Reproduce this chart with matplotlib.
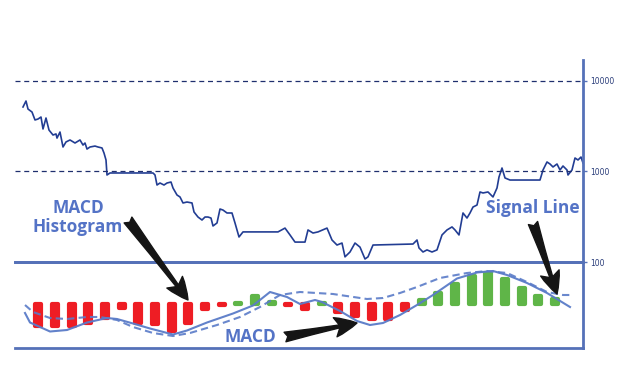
import numpy as np
import matplotlib
matplotlib.use('Agg')
import matplotlib.pyplot as plt

# price (log scale), day index vs price
price_day = [0, 3, 5, 9, 12, 15, 18, 20, 23, 26, 30, 33, 34, 37, 40, 43, 47, 52, 57, 60,
             62, 64, 67, 72, 75, 79, 81, 83, 84, 87, 110, 130, 132, 134, 137, 141, 144, 148,
             150, 154, 157, 160, 164, 169, 171, 175, 179, 182, 185, 188, 190, 194, 197, 200,
             204, 209, 212, 216, 220, 240, 255, 262, 267, 272, 277, 282, 285, 290, 295, 304,
             309, 314, 319, 322, 327, 332, 337, 342, 345, 350, 390, 394, 396, 400, 404, 409,
             414, 419, 424, 429, 432, 436, 440, 444, 447, 450, 454, 457, 460, 465, 470, 474,
             476, 479, 482, 487, 517, 520, 524, 527, 530, 534, 537, 540, 544, 545, 549, 552,
             555, 558, 560]
price = [5160, 6010, 4900, 4540, 3710, 3800, 4000, 2950, 3900, 2870, 2530, 2600, 2340, 2730,
         1865, 2120, 2230, 2065, 2230, 1960, 2065, 1770, 1865, 1910, 1865, 1820, 1600, 1340,
         915, 963, 963, 963, 915, 709, 746, 709, 746, 765, 657, 550, 523, 449, 460, 449, 357,
         314, 291, 314, 314, 306, 250, 270, 385, 375, 348, 348, 270, 189, 215, 215, 215, 237,
         199, 166, 166, 166, 226, 209, 215, 237, 175, 154, 162, 114, 129, 162, 146, 108, 114,
         154, 158, 175, 143, 129, 136, 129, 136, 199, 226, 244, 226, 199, 348, 306, 348, 405,
         426, 594, 579, 594, 523, 657, 869, 1093, 848, 805, 805, 1039, 1274, 1210, 1122, 1210,
         1039, 1150, 1039, 915, 1039, 1410, 1340, 1446, 1241]

# MACD panel
hist_day = [15, 32, 49, 65, 82, 99, 115, 132, 149, 165, 182, 199, 215, 232, 249, 265,
            282, 299, 315, 332, 349, 365, 382, 399, 415, 432, 449, 465, 482, 499, 515, 532]
hist = [-2.2, -2.2, -2.2, -1.9, -1.4, -0.4, -1.9, -2.0, -2.7, -1.9, -0.5, -0.1, 0.1, 0.8,
        0.15, -0.1, -0.5, 0.1, -0.8, -1.2, -1.5, -1.5, -0.6, 0.4, 1.1, 2.0, 2.8, 3.1, 2.5,
        1.6, 0.8, 0.5]

macd_day = [2, 7, 27, 44, 64, 84, 94, 110, 127, 150, 164, 184, 210, 230, 247, 264, 277,
            292, 299, 317, 334, 347, 360, 377, 394, 410, 434, 454, 470, 484, 504, 524, 547]
macd = [-0.95, -1.9, -2.8, -2.65, -1.9, -1.45, -1.55, -2.0, -2.5, -3.1, -2.7, -1.9, -1.0,
        -0.2, 1.15, 0.65, -0.05, 0.35, 0.15, -0.75, -1.75, -2.15, -1.95, -1.15, -0.15, 0.85,
        2.5, 3.1, 3.25, 2.85, 2.05, 1.05, -0.35]

signal_day = [2, 10, 27, 44, 64, 77, 94, 110, 130, 150, 167, 194, 217, 237, 257, 277, 310,
              344, 360, 377, 394, 417, 444, 464, 484, 504, 524, 540, 549]
signal = [-0.15, -0.85, -1.45, -1.55, -1.35, -1.35, -1.65, -2.35, -2.95, -3.25, -2.95,
          -2.15, -1.35, -0.35, 0.85, 1.15, 0.95, 0.45, 0.55, 1.05, 1.65, 2.55, 3.05, 3.25,
          3.05, 2.15, 1.15, 0.85, 0.85]

AXIS = '#5571b8'
NAVY = '#223d93'
LINE = '#5a7bc8'
LABEL = '#5473c6'
RED = '#ee1d24'
GREEN = '#5fb548'

fig = plt.figure(figsize=(6.24, 3.8), dpi=100)
ax1 = fig.add_axes([15 / 624, 118 / 380, 568 / 624, 202 / 380])
ax2 = fig.add_axes([15 / 624, 32 / 380, 568 / 624, 86 / 380])
ax2.patch.set_alpha(0)

# top panel
ax1.plot(price_day, price, color=NAVY, lw=1.2)
ax1.set_yscale('log')
ax1.set_ylim(100, 17060)
ax1.set_xlim(-8, 560)
for level in [1000, 10000]:
    ax1.axhline(level, color='#1f2f6e', lw=0.9, dashes=(4, 3))
ax1.yaxis.tick_right()
ax1.set_yticks([100, 1000, 10000])
ax1.set_yticklabels(['100', '1000', '10000'])
ax1.minorticks_off()
ax1.tick_params(axis='y', length=3, width=1, color=AXIS, labelsize=5.5,
                labelcolor='#2a3d7a', pad=2)
ax1.set_xticks([])
for s in ['left', 'top']:
    ax1.spines[s].set_visible(False)
for s in ['right', 'bottom']:
    ax1.spines[s].set_color(AXIS)
    ax1.spines[s].set_linewidth(2)

# bottom panel
colors = [RED if h < 0 else GREEN for h in hist]
ax2.bar(hist_day, hist, width=6.5, color=colors, edgecolor=colors, linewidth=3,
        joinstyle='round', zorder=2)
ax2.plot(macd_day, macd, color=LINE, lw=1.5, zorder=3, alpha=0.95)
ax2.plot(signal_day, signal, color=LINE, lw=1.5, dashes=(3.5, 2), zorder=3, alpha=0.9)
ax2.set_xlim(-8, 560)
ax2.set_ylim(-4.45, 4.15)
ax2.set_xticks([])
ax2.set_yticks([])
ax2.spines['left'].set_visible(False)
for s in ['right', 'bottom', 'top']:
    ax2.spines[s].set_color(AXIS)
    ax2.spines[s].set_linewidth(2)

# labels and arrows
font = dict(family=['Open Sans', 'DejaVu Sans'], weight='bold', color=LABEL, fontsize=12.5,
            ha='center', va='center')
fig.text(78 / 624, 172 / 380, 'MACD', **font)
fig.text(78 / 624, 153 / 380, 'Histogram', **font)
fig.text(533 / 624, 172 / 380, 'Signal Line', **font)
fig.text(250 / 624, 43 / 380, 'MACD', **font)

arrow = dict(arrowstyle='fancy,head_length=0.8,head_width=0.7,tail_width=0.35',
             color='#151515', mutation_scale=20, shrinkA=0, shrinkB=0)
ax2.annotate('', xy=(165, 0.35), xytext=(128, 160), textcoords='figure pixels',
             arrowprops=arrow)
ax2.annotate('', xy=(334, -1.95), xytext=(285, 43), textcoords='figure pixels',
             arrowprops=arrow)
ax2.annotate('', xy=(534, 0.95), xytext=(533, 157), textcoords='figure pixels',
             arrowprops=arrow)

fig.savefig('out.png', dpi=100)
